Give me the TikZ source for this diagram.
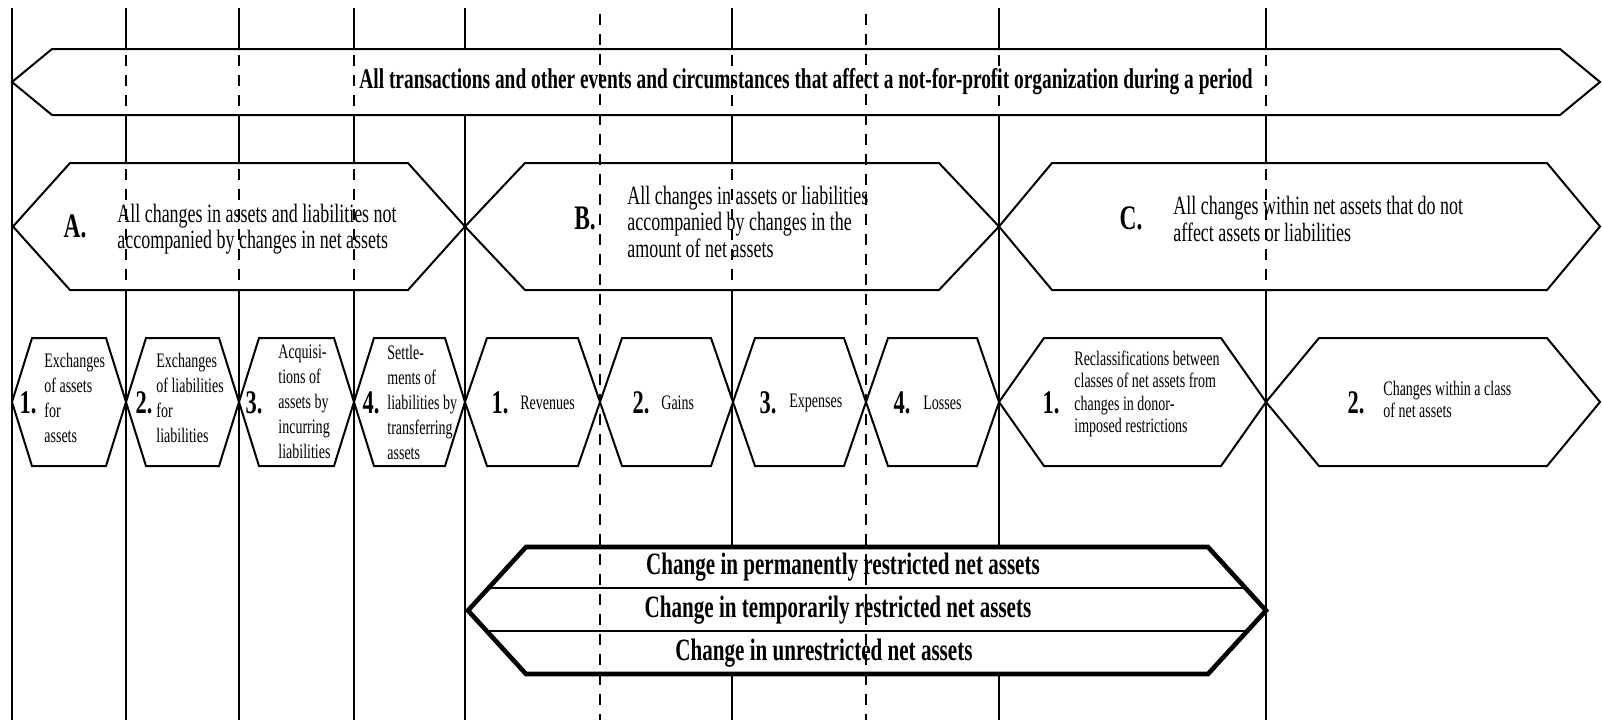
\documentclass[tikz,border=0pt]{standalone}
\usepackage{fontspec}
\setmainfont{Liberation Serif}[FakeStretch=0.68]
\usepackage{tikz}
\usetikzlibrary{positioning}
% hexagon from left tip #2 to right tip #3, top #4, bottom #5, slant #6
\newcommand{\hexa}[6][]{%
  \path[#1] (#2,{(#4+#5)/2}) -- (#2+#6,#4) -- (#3-#6,#4) -- (#3,{(#4+#5)/2})
    -- (#3-#6,#5) -- (#2+#6,#5) -- cycle;}

\begin{document}
\begin{tikzpicture}
  [
    x=0.5pt, y=-0.5pt,
    Rule/.style={draw=black, line width=1.1pt},
    DashRule/.style={draw=black, line width=1.1pt, dash pattern=on 5.5pt off 4.5pt, dash phase=-3pt},
    Hex/.style={draw=black, fill=white, line width=1pt},
    Divider/.style={draw=black, line width=0.8pt},
    Frame/.style={draw=black, line width=2.3pt},
    Head/.style={font=\bfseries\fontsize{14.25}{15}\selectfont, inner sep=0pt},
    Letter/.style={font=\bfseries\fontsize{17.2}{18}\selectfont, inner sep=0pt},
    Body/.style={font=\fontsize{13.2}{12}\selectfont, align=left, inner sep=0pt, anchor=west},
    Small/.style={font=\fontsize{10.3}{12.5}\selectfont, align=left, inner sep=0pt, anchor=west},
    Num/.style={font=\bfseries\fontsize{16.5}{16}\selectfont, inner sep=0pt},
    Band/.style={font=\bfseries\fontsize{15.5}{15}\selectfont, inner sep=0pt}
  ]
  \path[use as bounding box, fill=white] (0,0) rectangle (1602,720);
  % Rules behind the shapes
  \path[Rule] (12,8) -- (12,720) (126,8) -- (126,720) (239,8) -- (239,720)
    (354,8) -- (354,720) (465,8) -- (465,720) (732,8) -- (732,720)
    (999,8) -- (999,720) (1266,8) -- (1266,720);
  % Top arrow
  \hexa[Hex]{12}{1600}{49}{115}{40}
  % A, B, C
  \hexa[Hex]{13}{465}{163}{290}{57}
  \hexa[Hex]{465}{999}{163}{290}{60}
  \hexa[Hex]{999}{1600}{163}{290}{53}
  % Small hexagons
  \hexa[Hex]{12}{126}{338}{466}{20}
  \hexa[Hex]{126}{239}{338}{466}{20}
  \hexa[Hex]{239}{354}{338}{466}{20}
  \hexa[Hex]{354}{465}{338}{466}{20}
  \hexa[Hex]{465}{600}{338}{466}{22}
  \hexa[Hex]{600}{733}{338}{466}{22}
  \hexa[Hex]{733}{866}{338}{466}{22}
  \hexa[Hex]{866}{999}{338}{466}{22}
  \hexa[Hex]{999}{1266}{338}{466}{45}
  \hexa[Hex]{1266}{1600}{338}{466}{53}
  % Net assets band
  \hexa[fill=white]{468}{1266}{547}{674}{58}
  \begin{scope}
    \hexa[clip]{468}{1266}{547}{674}{58}
    \path[Divider] (468,588) -- (1266,588) (468,631) -- (1266,631);
  \end{scope}
  \hexa[Frame]{468}{1266}{547}{674}{58}
  % Rules seen through the shapes
  \path[DashRule] (126,49) -- (126,115) (239,49) -- (239,115) (354,49) -- (354,115)
    (732,49) -- (732,115) (999,49) -- (999,115) (1266,49) -- (1266,115);
  \path[DashRule] (126,163) -- (126,290) (239,163) -- (239,290) (354,163) -- (354,290)
    (732,163) -- (732,290) (1266,163) -- (1266,290);
  \path[DashRule] (600,8) -- (600,720) (866,8) -- (866,720);
  % Texts
  \node[Head] (allEvents) at (806,82) {All transactions and other events and circumstances that affect a not-for-profit organization during a period};
  \node[Letter] (labA) at (75,226) {A.};
  \node[Body] (txtA) at (117,229) {All changes in assets and liabilities not\\accompanied by changes in net assets};
  \node[Letter] (labB) at (585,218) {B.};
  \node[Body] (txtB) at (627,222) {All changes in assets or liabilities\\accompanied by changes in the\\amount of net assets};
  \node[Letter] (labC) at (1131,218) {C.};
  \node[Body] (txtC) at (1173,219) {All changes within net assets that do not\\affect assets or liabilities};
  \node[Num] (numAone) at (28,403) {1.};
  \node[Small] (txtAone) at (44,398) {Exchanges\\of assets\\for\\assets};
  \node[Num] (numAtwo) at (144,403) {2.};
  \node[Small] (txtAtwo) at (156,398) {Exchanges\\of liabilities\\for\\liabilities};
  \node[Num] (numAthree) at (254,403) {3.};
  \node[Small] (txtAthree) at (278,402) {Acquisi-\\tions of\\assets by\\incurring\\liabilities};
  \node[Num] (numAfour) at (371,403) {4.};
  \node[Small] (txtAfour) at (387,402) {Settle-\\ments of\\liabilities by\\transferring\\assets};
  \node[Num] (numBone) at (500,403) {1.};
  \node[Small] (txtBone) at (520,403) {Revenues};
  \node[Num] (numBtwo) at (641,403) {2.};
  \node[Small] (txtBtwo) at (661,403) {Gains};
  \node[Num] (numBthree) at (768,403) {3.};
  \node[Small] (txtBthree) at (789,403) {Expenses};
  \node[Num] (numBfour) at (902,403) {4.};
  \node[Small] (txtBfour) at (923,403) {Losses};
  \node[Num] (numCone) at (1051,403) {1.};
  \node[Small, font=\fontsize{10.3}{11.3}\selectfont] (txtCone) at (1074,394) {Reclassifications between\\classes of net assets from\\changes in donor-\\imposed restrictions};
  \node[Num] (numCtwo) at (1356,403) {2.};
  \node[Small, font=\fontsize{10.3}{11}\selectfont] (txtCtwo) at (1383,399) {Changes within a class\\of net assets};
  \node[Band] (chPerm) at (843,567) {Change in permanently restricted net assets};
  \node[Band] (chTemp) at (838,610) {Change in temporarily restricted net assets};
  \node[Band] (chUnres) at (824,653) {Change in unrestricted net assets};
\end{tikzpicture}
\end{document}
